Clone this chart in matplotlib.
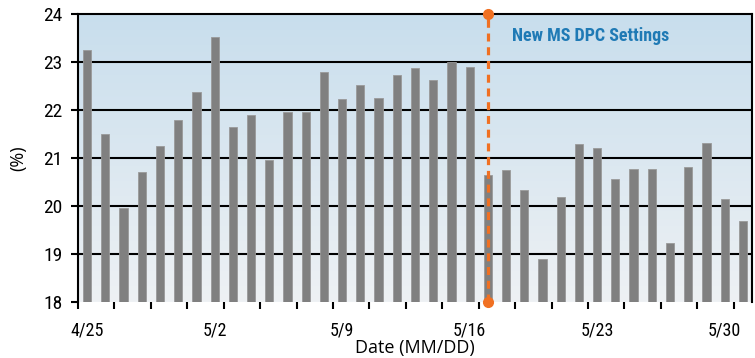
import numpy as np
import matplotlib.pyplot as plt
from matplotlib.colors import LinearSegmentedColormap
import datetime as dt

# daily values, 4/25 through 5/31
start = dt.date(2011, 4, 25)
values = [23.25, 21.5, 19.95, 20.7, 21.25, 21.8, 22.38, 23.52, 21.65, 21.9,
          20.95, 21.95, 21.95, 22.8, 22.22, 22.52, 22.25, 22.73, 22.88, 22.62,
          23.0, 22.9, 20.65, 20.75, 20.33, 18.9, 20.18, 21.3, 21.2, 20.57,
          20.78, 20.78, 19.22, 20.82, 21.32, 20.15, 19.68]
dates = [start + dt.timedelta(days=i) for i in range(len(values))]
label_every = 7
change_day = 22          # index of the day the new settings start
change_text = 'New MS DPC Settings'
ymin, ymax = 18, 24

narrow = ['Roboto Condensed', 'Asap Condensed', 'DejaVu Sans']

fig = plt.figure(figsize=(7.55, 3.58), dpi=100)
ax = fig.add_axes([78/755, 1-302/358, (752-78)/755, (302-14)/358])

n = len(values)
x = np.arange(n)
ax.set_xlim(-0.5, n - 0.5)
ax.set_ylim(ymin, ymax)

# background gradient, light blue at the top fading to grey
cmap = LinearSegmentedColormap.from_list('bg', ['#eef1f4', '#c8deed'])
grad = np.linspace(0, 1, 256).reshape(-1, 1)
ax.imshow(grad, cmap=cmap, aspect='auto', origin='lower',
          extent=[-0.5, n - 0.5, ymin, ymax], zorder=0)

for y in range(ymin + 1, ymax):
    ax.axhline(y, color='black', lw=1.5, zorder=1)

ax.bar(x, values, width=0.45, color='#808080', edgecolor='#9a9a9a',
       linewidth=0.6, zorder=2)

# marker for the settings change
ax.plot([change_day, change_day], [ymin, ymax], color='#f07022', lw=2.3,
        ls=(0, (2.5, 1.8)), marker='o', ms=7, clip_on=False, zorder=4)
ax.text(change_day + 1.3, 23.55, change_text, color='#1f7ab5', fontsize=13,
        fontweight='bold', family=narrow, va='center', ha='left')

for s in ['left', 'top', 'right']:
    ax.spines[s].set_color('black')
    ax.spines[s].set_linewidth(1.5)
ax.spines['bottom'].set_visible(False)

ax.set_yticks(range(ymin, ymax + 1))
ax.tick_params(axis='y', direction='out', length=5, width=1.5,
               labelsize=14, pad=6)
for t in ax.get_yticklabels():
    t.set_family(narrow)

lab_idx = list(range(0, n, label_every))
ax.set_xticks(lab_idx)
ax.set_xticklabels(['{}/{}'.format(dates[i].month, dates[i].day) for i in lab_idx])
ax.set_xticks(np.arange(-0.5, n - 1, 2), minor=True)
ax.tick_params(axis='x', which='major', length=0, labelsize=13, pad=14)
ax.tick_params(axis='x', which='minor', direction='out', length=5, width=1.5)
for t in ax.get_xticklabels():
    t.set_family(narrow)

ax.set_xlabel('Date (MM/DD)', fontsize=13, family='Open Sans', labelpad=0)
ax.set_ylabel('(%)', fontsize=13, family='Open Sans', labelpad=12)

fig.savefig('out.png', dpi=100)
